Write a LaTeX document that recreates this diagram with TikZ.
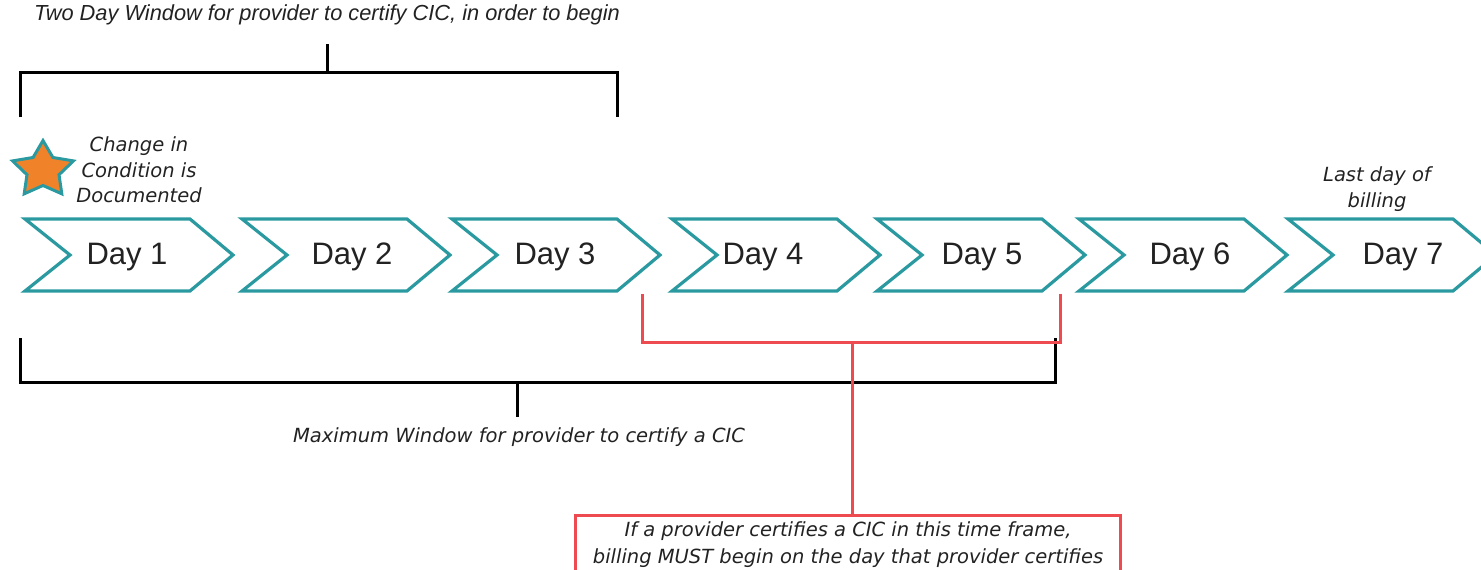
\documentclass[tikz,border=0pt]{standalone}
\usepackage{fontspec}
\setmainfont{Liberation Sans}
\newfontfamily\djv{DejaVu Sans}
\usetikzlibrary{shapes.geometric}
\definecolor{tealc}{HTML}{2A9AA0}
\definecolor{redc}{HTML}{EE4B50}
\definecolor{starorange}{HTML}{F0822A}
\definecolor{txt}{HTML}{222222}
\tikzset{
  chev/.style={draw=tealc, line width=3.2pt, line join=miter, fill=white},
  daylbl/.style={font=\fontsize{31}{34}\selectfont, text=txt, inner sep=0pt, anchor=base},
  note/.style={font=\djv\itshape\fontsize{19.5}{25.5}\selectfont, text=txt, align=center, inner sep=0pt},
  topnote/.style={font=\itshape\fontsize{21.8}{24}\selectfont, text=txt, inner sep=0pt},
  brk/.style={draw=black, line width=3pt},
  redl/.style={draw=redc, line width=3pt},
}
\begin{document}
\begin{tikzpicture}[x=1pt,y=-1pt]
\useasboundingbox (0,0) rectangle (1481,570);
\clip (0,0) rectangle (1481,570);
% chevrons
\foreach \l in {25,242,452,672,877,1079,1288}{
  \draw[chev] (\l,219) -- ++(165,0) -- ++(43,36) -- ++(-43,36) -- ++(-165,0) -- ++(45,-36) -- cycle;
}
\node[daylbl] (d1) at (127,264) {Day 1};
\node[daylbl] (d2) at (352,264) {Day 2};
\node[daylbl] (d3) at (555,264) {Day 3};
\node[daylbl] (d4) at (763,264) {Day 4};
\node[daylbl] (d5) at (982,264) {Day 5};
\node[daylbl] (d6) at (1190,264) {Day 6};
\node[daylbl] (d7) at (1403,264) {Day 7};
% star
\node[star, star points=5, star point ratio=1.9, minimum size=64pt, inner sep=0pt,
      fill=starorange, draw=tealc, line width=3pt, yscale=0.92, transform shape] (star) at (43,170) {};
\node[note] (cic) at (139,170) {Change in\\Condition is\\Documented};
\node[note] (last) at (1377,189) {Last day of\\billing};
% top bracket
\draw[brk] (20,117) -- (20,72) -- (617,72) -- (617,117);
\coordinate (toptick) at (327,44);
\draw[brk] (327,72) -- (toptick);
\node[topnote] (twoday) at (327,15) {Two Day Window for provider to certify CIC, in order to begin};
% lower black bracket
\draw[brk] (20,338) -- (20,382) -- (1055,382) -- (1055,338);
\coordinate (maxtick) at (517,417);
\draw[brk] (517,382) -- (maxtick);
\node[note] (maxw) at (519,437) {Maximum Window for provider to certify a CIC};
% red bracket and box
\draw[redl] (642,294) -- (642,342) -- (1060,342) -- (1060,294);
\draw[redl] (575,590) -- (575,515) -- (1120,515) -- (1120,590);
\node[note, font=\djv\itshape\fontsize{19.5}{27}\selectfont] (boxtxt) at (848,545) {If a provider certifies a CIC in this time frame,\\billing MUST begin on the day that provider certifies};
\coordinate (boxtop) at (852,515);
\draw[redl] (852,342) -- (boxtop);
\end{tikzpicture}
\end{document}
